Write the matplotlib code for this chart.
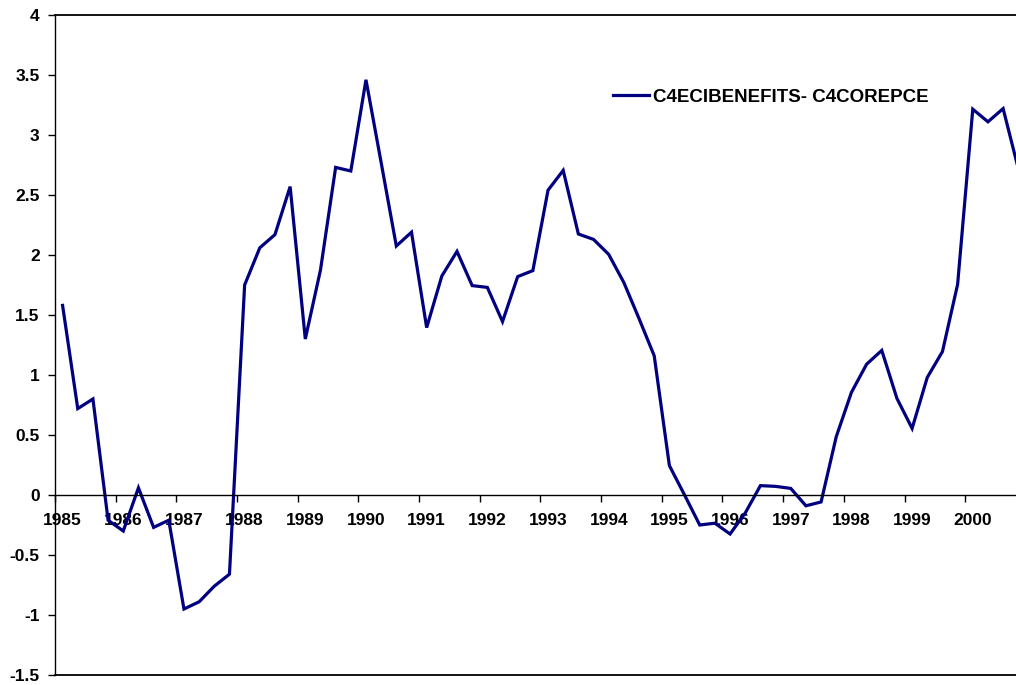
import matplotlib
matplotlib.use('Agg')
import matplotlib.pyplot as plt

plt.rcParams['font.family'] = ['Liberation Sans', 'DejaVu Sans']

# quarterly values, 1985Q1 .. 2000Q4
values = [1.58, 0.72, 0.80, -0.21, -0.30, 0.06, -0.27, -0.21,
          -0.95, -0.89, -0.76, -0.66, 1.75, 2.06, 2.17, 2.57,
          1.30, 1.875, 2.73, 2.70, 3.46, 2.77, 2.075, 2.19,
          1.395, 1.825, 2.03, 1.745, 1.73, 1.445, 1.82, 1.87,
          2.54, 2.705, 2.175, 2.13, 2.005, 1.77, 1.47, 1.16,
          0.245, 0.0, -0.25, -0.235, -0.325, -0.15, 0.078, 0.072,
          0.055, -0.09, -0.058, 0.486, 0.855, 1.09, 1.205, 0.805,
          0.555, 0.98, 1.195, 1.755, 3.215, 3.11, 3.22, 2.72]
years = ['1985', '1986', '1987', '1988', '1989', '1990', '1991', '1992',
         '1993', '1994', '1995', '1996', '1997', '1998', '1999', '2000']
series_name = 'C4ECIBENEFITS- C4COREPCE'
y_ticks = [-1.5, -1, -0.5, 0, 0.5, 1, 1.5, 2, 2.5, 3, 3.5, 4]
y_tick_labels = ['-1.5', '-1', '-0.5', '0', '0.5', '1', '1.5', '2', '2.5', '3', '3.5', '4']

W, H = 1016, 685
fig = plt.figure(figsize=(W / 100, H / 100), dpi=100)
ax = fig.add_axes([55 / W, 10 / H, (W - 55) / W, 660 / H])

x = list(range(len(values)))
line, = ax.plot(x, values, color='#000080', lw=2.3, label=series_name,
                solid_joinstyle='miter')

ax.set_ylim(-1.5, 4)
ax.set_xlim(-0.5, (W - 55) / 15.17 - 0.5)

# plot-area border: top and bottom lines, category axis at zero
ax.spines['right'].set_visible(False)
ax.spines['top'].set_linewidth(1.3)
ax.axhline(-1.5, color='black', lw=1.3, clip_on=False)
ax.spines['bottom'].set_position(('data', 0))
ax.spines['left'].set_linewidth(1.0)
ax.spines['bottom'].set_linewidth(1.0)

ax.set_yticks(y_ticks)
ax.set_yticklabels(y_tick_labels, fontsize=12.5, fontweight='bold')
ax.tick_params(axis='y', direction='out', length=5, width=1, pad=6)

# year boundaries as ticks, labels on first quarter of each year
ax.set_xticks([4 * k - 0.5 for k in range(len(years))])
ax.set_xticklabels([])
ax.set_xticks([4 * k for k in range(len(years))], minor=True)
ax.set_xticklabels(years, minor=True, fontsize=12.5, fontweight='bold')
ax.tick_params(axis='x', which='major', direction='out', length=5, width=1)
ax.tick_params(axis='x', which='minor', length=0, pad=13)

fig.legend(handles=[line], loc='center left',
           bbox_to_anchor=(613 / W, 1 - 97 / H), frameon=False,
           prop={'size': 13.5, 'weight': 'bold'},
           handlelength=1.9, handletextpad=0.25, borderpad=0, borderaxespad=0)

fig.savefig('out.png', dpi=100)
